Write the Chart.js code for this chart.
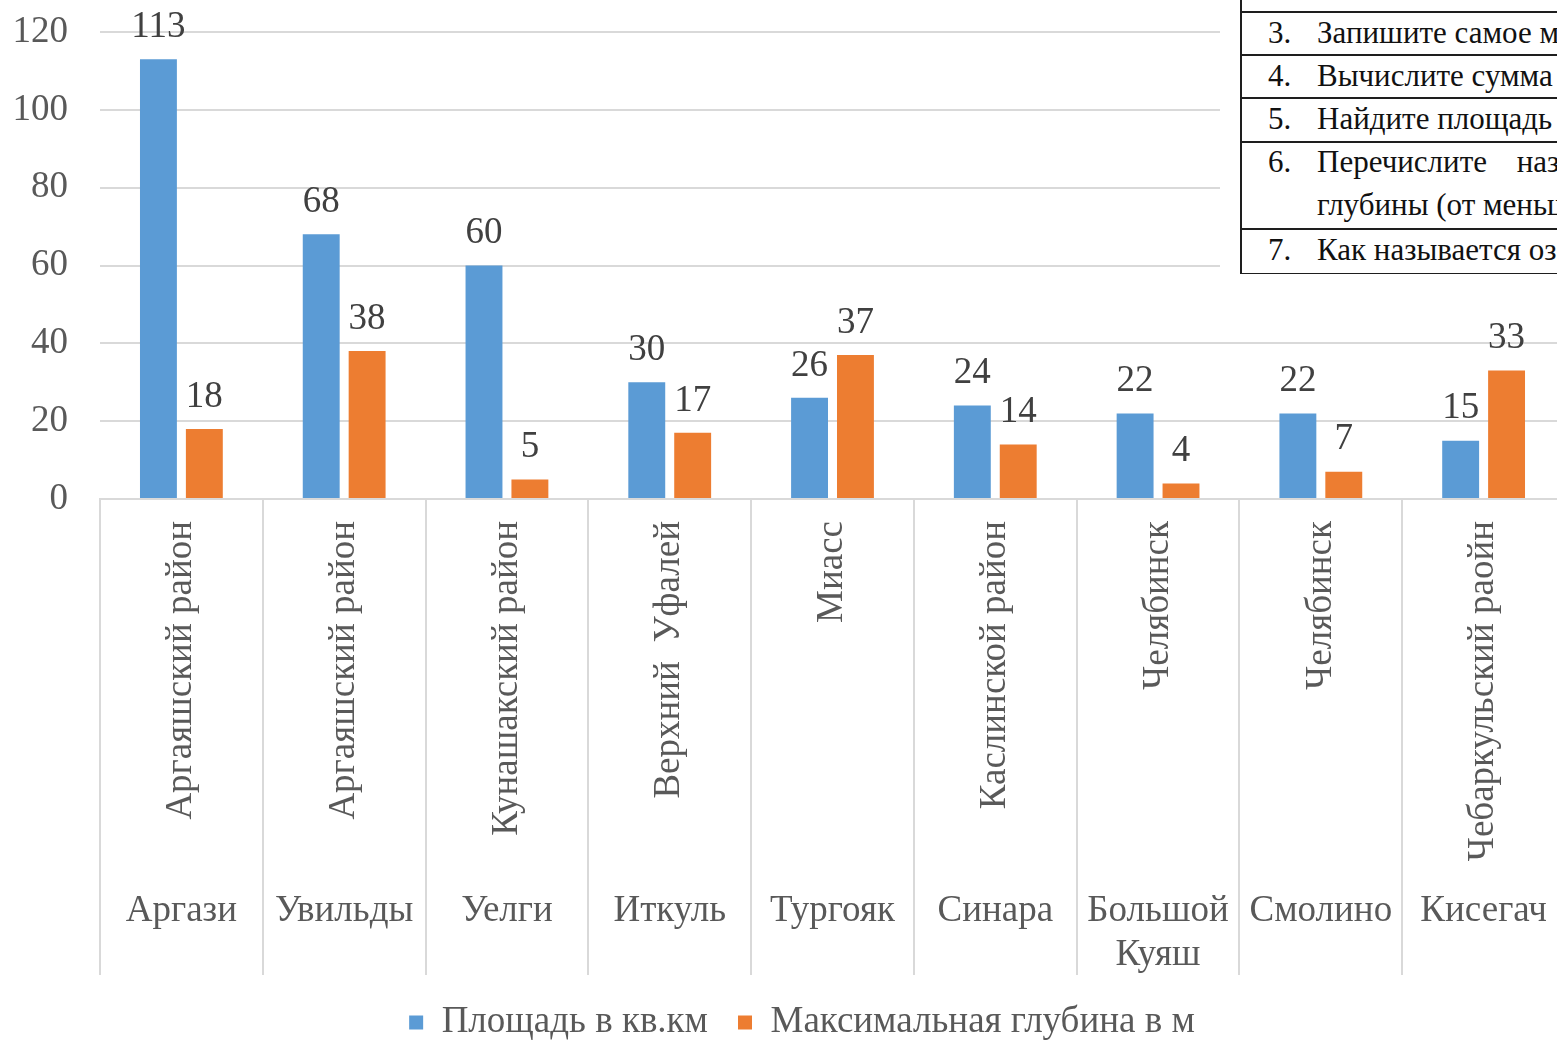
<!DOCTYPE html>
<html><head><meta charset="utf-8">
<script src="https://cdn.jsdelivr.net/npm/chart.js@4/dist/chart.umd.min.js"></script>
<style>
html,body{margin:0;padding:0;background:#fff;overflow:hidden;width:1557px;height:1041px;}
#wrap{position:absolute;left:0;top:0;width:1604px;height:1051px;}
#tbl{position:absolute;left:1220px;top:0;width:400px;height:274px;background:#fff;overflow:hidden;}
#tblin{position:absolute;left:20px;top:0;width:400px;height:273px;border-left:2px solid #1e1e1e;border-bottom:2px solid #1e1e1e;font-family:"Liberation Serif",serif;font-size:31px;color:#111;}
.row{position:absolute;left:0;width:400px;border-top:2px solid #1e1e1e;box-sizing:border-box;}
.num{position:absolute;left:26px;}
.txt{position:absolute;left:75px;white-space:pre;}
</style>
</head><body>
<div id="wrap"><canvas id="c" width="1604" height="1051"></canvas></div>
<div id="tbl"><div id="tblin">
  <div class="row" style="top:11px;height:44px"><span class="num" style="top:2px">3.</span><span class="txt" style="top:2px">Запишите самое мелкое озеро</span></div>
  <div class="row" style="top:54px;height:44px"><span class="num" style="top:2px">4.</span><span class="txt" style="top:2px">Вычислите сумма площадей</span></div>
  <div class="row" style="top:97px;height:45px"><span class="num" style="top:2px">5.</span><span class="txt" style="top:2px">Найдите площадь озера</span></div>
  <div class="row" style="top:141px;height:88px"><span class="num" style="top:1px">6.</span><span class="txt" style="top:1px;word-spacing:22px">Перечислите названия</span><span class="txt" style="top:44px">глубины (от меньшей к большей)</span></div>
  <div class="row" style="top:228px;height:44px"><span class="num" style="top:2px">7.</span><span class="txt" style="top:2px">Как называется озеро</span></div>
</div></div>
<script>
const lakes = ['Аргази','Увильды','Уелги','Иткуль','Тургояк','Синара',['Большой','Куяш'],'Смолино','Кисегач'];
const districts = ['Аргаяшский район','Аргаяшский район','Кунашакский район','Верхний  Уфалей','Миасс','Каслинской район','Челябинск','Челябинск','Чебаркульский раойн'];
const area = [113,68,60,30,26,24,22,22,15];
const depth = [18,38,5,17,37,14,4,7,33];
const yTicks = [0,20,40,60,80,100,120];
const seriesNames = ['Площадь в кв.км','Максимальная глубина в м'];
const seriesColors = ['#5B9BD5','#ED7D31'];

const FONT = {family:'"Liberation Serif", "Times New Roman", serif', size:37};
const TXT = '#595959';

const deco = {
  id:'deco',
  afterDraw(chart){
    const ctx = chart.ctx, xs = chart.scales.x, x2 = chart.scales.x2;
    const half = (xs.getPixelForValue(1) - xs.getPixelForValue(0)) / 2;
    ctx.save();
    ctx.strokeStyle = '#d9d9d9'; ctx.lineWidth = 2;
    for (let i = 0; i <= districts.length; i++) {
      const px = Math.round(xs.getPixelForValue(0) - half + i * 2 * half);
      ctx.beginPath(); ctx.moveTo(px, xs.top); ctx.lineTo(px, x2.bottom + 1); ctx.stroke();
    }
    ctx.fillStyle = '#404040';
    ctx.font = `${FONT.size}px ${FONT.family}`;
    ctx.textAlign = 'center'; ctx.textBaseline = 'middle';
    chart.data.datasets.forEach((ds, di) => {
      chart.getDatasetMeta(di).data.forEach((bar, i) => {
        ctx.fillText(String(ds.data[i]), bar.x, bar.y - 32);
      });
    });
    ctx.restore();
  }
};

new Chart(document.getElementById('c'), {
  type:'bar',
  data:{
    labels: districts,
    datasets: seriesNames.map((n, k) => ({
      label: n, data: k === 0 ? area : depth, backgroundColor: seriesColors[k],
      borderWidth: 0, categoryPercentage: 0.564, barPercentage: 0.804, xAxisID: 'x', yAxisID: 'y'
    }))
  },
  options:{
    responsive:false, animation:false, devicePixelRatio:1,
    layout:{padding:{top:32,left:0,right:0,bottom:0}},
    plugins:{
      tooltip:{enabled:false},
      legend:{position:'bottom', labels:{font:FONT, color:TXT, boxWidth:14, boxHeight:14, padding:30}}
    },
    scales:{
      x:{type:'category', position:'bottom', offset:true, weight:0,
        grid:{display:false}, border:{display:true, color:'#d9d9d9', width:2},
        ticks:{autoSkip:false, minRotation:90, maxRotation:90, padding:14, font:FONT, color:TXT},
        afterFit(s){ s.height = 386; }},
      x2:{type:'category', labels: lakes.map(l => Array.isArray(l) ? l.join(' ') : l), position:'bottom', offset:true, weight:1,
        grid:{display:false}, border:{display:false},
        ticks:{autoSkip:false, minRotation:0, maxRotation:0, padding:-3, font:{...FONT, lineHeight:1.17}, color:TXT,
          callback:(v, i) => lakes[i]},
        afterFit(s){ s.height = 89; }},
      y:{type:'linear', position:'left', min:0, max:120,
        grid:{color:'#d9d9d9', lineWidth:2, drawTicks:false}, border:{display:false},
        ticks:{padding:32, font:FONT, color:TXT},
        afterBuildTicks(s){ s.ticks = yTicks.map(v => ({value:v})); },
        afterFit(s){ s.width = 100; s.paddingTop = 0; s.paddingBottom = 0; }},
      y2:{type:'linear', position:'right', display:true,
        grid:{display:false}, border:{display:false}, ticks:{display:false},
        afterFit(s){ s.width = 39; s.paddingTop = 0; s.paddingBottom = 0; }}
    }
  },
  plugins:[deco]
});
</script>
</body></html>
